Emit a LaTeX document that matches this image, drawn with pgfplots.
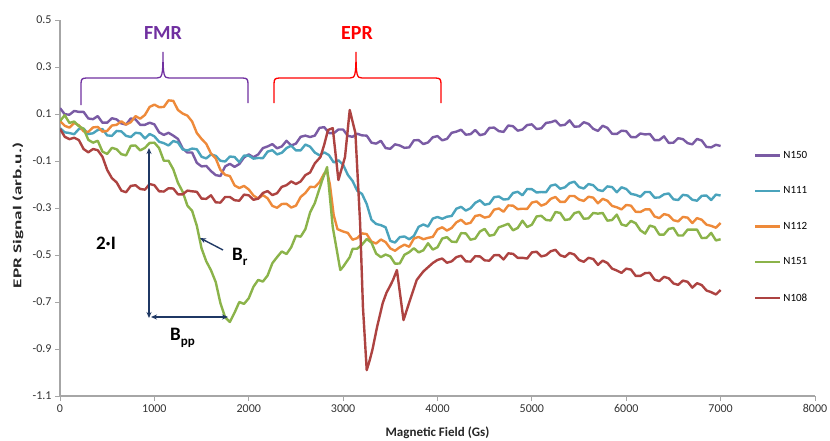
\documentclass[border=0pt]{standalone}
\usepackage{pgfplots}
\pgfplotsset{compat=1.18}
\usetikzlibrary{arrows.meta}
\usepackage{fontspec}
\setmainfont{Carlito}
\newfontfamily\ylabfont{Carlito}[FakeStretch=1.6]
\definecolor{cPur}{HTML}{7A5BA4}
\definecolor{cCya}{HTML}{4AA3BC}
\definecolor{cOra}{HTML}{EE8A3A}
\definecolor{cGre}{HTML}{8BB34A}
\definecolor{cRed}{HTML}{AD4341}
\definecolor{cNavy}{HTML}{1F3864}
\definecolor{cFMR}{HTML}{7030A0}
\definecolor{cEPR}{HTML}{FF0000}
\begin{document}
\begin{tikzpicture}[x=1pt,y=1pt]
\path[use as bounding box] (-60,-44) rectangle (770,396);
\begin{axis}[
  at={(0,0)}, anchor=south west, scale only axis, width=755pt, height=376pt,
  xmin=0, xmax=8000, ymin=-1.1, ymax=0.5,
  axis x line*=bottom, axis y line*=left,
  axis line style={draw=black!35, line width=1.2pt},
  tick align=outside, major tick length=5pt,
  every tick/.style={draw=black!35, line width=1pt},
  scaled x ticks=false,
  xtick={0,1000,2000,3000,4000,5000,6000,7000,8000},
  ytick={-1.1,-0.9,-0.7,-0.5,-0.3,-0.1,0.1,0.3,0.5},
  tick label style={font=\fontsize{12}{13}\selectfont, text=black!80},
  /pgf/number format/assume math mode=true,
  xticklabel style={/pgf/number format/1000 sep={}},
  yticklabel style={/pgf/number format/.cd, fixed, fixed zerofill, precision=1},
  xlabel={Magnetic Field (Gs)},
  ylabel={EPR Signal (arb.u.)},
  every axis x label/.style={at={(axis description cs:0.5,-0.098)}, anchor=center, font=\fontsize{13}{14}\selectfont\bfseries, text=black!85},
  every axis y label/.style={at={(axis description cs:-0.0556,0.48)}, anchor=center, rotate=90, font=\ylabfont\fontsize{12}{13}\selectfont\bfseries, text=black!85},
  legend style={at={(rel axis cs:0.919,0.652)}, anchor=north west, draw=none, fill=none, inner sep=0pt, row sep=27pt, font=\fontsize{11}{11}\selectfont, nodes={inner xsep=2pt, inner ysep=0pt}},
  legend cell align=left,
  legend image code/.code={\draw[#1, line width=2.4pt] (0pt,0pt) -- (25pt,0pt);},
  every axis plot/.append style={line width=2.4pt, line join=round, no markers},
]
\addplot[cPur] coordinates {(0,0.125)(50,0.099)(100,0.097)(150,0.113)(200,0.109)(250,0.109)(300,0.081)(350,0.078)(400,0.091)(450,0.063)(500,0.063)(550,0.082)(600,0.077)(650,0.060)(700,0.055)(750,0.081)(800,0.077)(850,0.054)(900,0.054)(950,0.063)(1000,0.056)(1050,0.022)(1100,0.011)(1150,0.020)(1200,0.008)(1250,-0.006)(1300,-0.047)(1350,-0.064)(1400,-0.064)(1450,-0.108)(1500,-0.123)(1550,-0.121)(1600,-0.143)(1650,-0.160)(1700,-0.164)(1750,-0.123)(1800,-0.112)(1850,-0.125)(1900,-0.113)(1950,-0.085)(2000,-0.072)(2050,-0.084)(2100,-0.072)(2150,-0.045)(2200,-0.038)(2250,-0.028)(2300,-0.046)(2350,-0.038)(2400,-0.014)(2450,-0.034)(2500,-0.026)(2550,0.003)(2600,0.008)(2650,0.002)(2700,0.008)(2750,0.041)(2800,0.044)(2850,0.019)(2900,0.018)(2950,0.034)(3000,0.034)(3050,0.007)(3100,0.003)(3150,0.016)(3200,0.009)(3250,0.008)(3300,-0.022)(3350,-0.026)(3400,-0.014)(3450,-0.045)(3500,-0.048)(3550,-0.029)(3600,-0.034)(3650,-0.044)(3700,-0.042)(3750,-0.012)(3800,-0.011)(3850,-0.028)(3900,-0.021)(3950,0.001)(4000,0.006)(4050,-0.012)(4100,-0.006)(4150,0.020)(4200,0.025)(4250,0.033)(4300,0.012)(4350,0.014)(4400,0.032)(4450,0.010)(4500,0.015)(4550,0.041)(4600,0.042)(4650,0.027)(4700,0.024)(4750,0.051)(4800,0.048)(4850,0.029)(4900,0.034)(4950,0.053)(5000,0.056)(5050,0.036)(5100,0.039)(5150,0.062)(5200,0.065)(5250,0.072)(5300,0.051)(5350,0.054)(5400,0.073)(5450,0.046)(5500,0.047)(5550,0.065)(5600,0.058)(5650,0.037)(5700,0.028)(5750,0.050)(5800,0.041)(5850,0.016)(5900,0.015)(5950,0.029)(6000,0.027)(6050,0.002)(6100,0.001)(6150,0.017)(6200,0.013)(6250,0.015)(6300,-0.011)(6350,-0.011)(6400,0.005)(6450,-0.023)(6500,-0.022)(6550,-0.003)(6600,-0.007)(6650,-0.024)(6700,-0.029)(6750,-0.006)(6800,-0.013)(6850,-0.040)(6900,-0.042)(6950,-0.031)(7000,-0.036)};
\addlegendentry{N150}
\addplot[cCya] coordinates {(0,0.040)(50,0.022)(100,0.019)(150,0.014)(200,0.036)(250,0.038)(300,0.015)(350,0.018)(400,0.032)(450,0.036)(500,0.009)(550,0.007)(600,0.028)(650,0.026)(700,0.007)(750,0.002)(800,0.020)(850,0.018)(900,-0.004)(950,0.015)(1000,0.005)(1050,-0.018)(1100,-0.024)(1150,-0.034)(1200,-0.015)(1250,-0.021)(1300,-0.051)(1350,-0.055)(1400,-0.047)(1450,-0.050)(1500,-0.082)(1550,-0.089)(1600,-0.072)(1650,-0.078)(1700,-0.099)(1750,-0.102)(1800,-0.081)(1850,-0.083)(1900,-0.105)(1950,-0.077)(2000,-0.077)(2050,-0.090)(2100,-0.087)(2150,-0.088)(2200,-0.060)(2250,-0.054)(2300,-0.072)(2350,-0.065)(2400,-0.045)(2450,-0.035)(2500,-0.055)(2550,-0.055)(2600,-0.030)(2650,-0.039)(2700,-0.064)(2750,-0.076)(2800,-0.063)(2850,-0.075)(2900,-0.106)(2950,-0.097)(3000,-0.116)(3050,-0.159)(3100,-0.185)(3150,-0.227)(3200,-0.240)(3250,-0.283)(3300,-0.350)(3350,-0.368)(3400,-0.373)(3450,-0.382)(3500,-0.440)(3550,-0.447)(3600,-0.424)(3650,-0.421)(3700,-0.433)(3750,-0.419)(3800,-0.380)(3850,-0.370)(3900,-0.379)(3950,-0.345)(4000,-0.338)(4050,-0.346)(4100,-0.337)(4150,-0.334)(4200,-0.303)(4250,-0.295)(4300,-0.311)(4350,-0.301)(4400,-0.278)(4450,-0.267)(4500,-0.286)(4550,-0.282)(4600,-0.254)(4650,-0.251)(4700,-0.264)(4750,-0.262)(4800,-0.236)(4850,-0.231)(4900,-0.246)(4950,-0.219)(5000,-0.220)(5050,-0.234)(5100,-0.232)(5150,-0.233)(5200,-0.205)(5250,-0.200)(5300,-0.218)(5350,-0.212)(5400,-0.194)(5450,-0.188)(5500,-0.211)(5550,-0.217)(5600,-0.198)(5650,-0.203)(5700,-0.223)(5750,-0.228)(5800,-0.208)(5850,-0.211)(5900,-0.233)(5950,-0.212)(6000,-0.219)(6050,-0.240)(6100,-0.244)(6150,-0.252)(6200,-0.232)(6250,-0.232)(6300,-0.256)(6350,-0.255)(6400,-0.242)(6450,-0.238)(6500,-0.263)(6550,-0.266)(6600,-0.244)(6650,-0.247)(6700,-0.265)(6750,-0.269)(6800,-0.248)(6850,-0.247)(6900,-0.266)(6950,-0.243)(7000,-0.247)};
\addlegendentry{N111}
\addplot[cOra] coordinates {(0,0.070)(50,0.050)(100,0.042)(150,0.062)(200,0.052)(250,0.026)(300,0.024)(350,0.043)(400,0.045)(450,0.025)(500,0.028)(550,0.051)(600,0.054)(650,0.069)(700,0.055)(750,0.065)(800,0.091)(850,0.080)(900,0.096)(950,0.130)(1000,0.140)(1050,0.129)(1100,0.130)(1150,0.158)(1200,0.156)(1250,0.117)(1300,0.102)(1350,0.093)(1400,0.068)(1450,0.019)(1500,-0.006)(1550,-0.027)(1600,-0.068)(1650,-0.089)(1700,-0.138)(1750,-0.159)(1800,-0.164)(1850,-0.204)(1900,-0.215)(1950,-0.206)(2000,-0.221)(2050,-0.247)(2100,-0.260)(2150,-0.245)(2200,-0.259)(2250,-0.291)(2300,-0.299)(2350,-0.283)(2400,-0.282)(2450,-0.298)(2500,-0.290)(2550,-0.253)(2600,-0.236)(2650,-0.210)(2700,-0.211)(2750,-0.190)(2800,-0.153)(2830,-0.145)(2860,-0.200)(2900,-0.330)(2940,-0.390)(3000,-0.400)(3050,-0.406)(3100,-0.435)(3150,-0.428)(3200,-0.408)(3250,-0.411)(3300,-0.443)(3350,-0.451)(3400,-0.434)(3450,-0.445)(3500,-0.472)(3550,-0.482)(3600,-0.467)(3650,-0.456)(3700,-0.465)(3750,-0.430)(3800,-0.423)(3850,-0.433)(3900,-0.427)(3950,-0.423)(4000,-0.391)(4050,-0.382)(4100,-0.396)(4150,-0.385)(4200,-0.361)(4250,-0.350)(4300,-0.368)(4350,-0.363)(4400,-0.334)(4450,-0.330)(4500,-0.341)(4550,-0.336)(4600,-0.307)(4650,-0.302)(4700,-0.316)(4750,-0.289)(4800,-0.290)(4850,-0.305)(4900,-0.303)(4950,-0.304)(5000,-0.277)(5050,-0.272)(5100,-0.290)(5150,-0.282)(5200,-0.261)(5250,-0.253)(5300,-0.274)(5350,-0.274)(5400,-0.249)(5450,-0.249)(5500,-0.264)(5550,-0.270)(5600,-0.252)(5650,-0.256)(5700,-0.280)(5750,-0.261)(5800,-0.269)(5850,-0.291)(5900,-0.297)(5950,-0.306)(6000,-0.287)(6050,-0.290)(6100,-0.316)(6150,-0.317)(6200,-0.306)(6250,-0.306)(6300,-0.336)(6350,-0.343)(6400,-0.326)(6450,-0.331)(6500,-0.352)(6550,-0.357)(6600,-0.338)(6650,-0.341)(6700,-0.364)(6750,-0.343)(6800,-0.350)(6850,-0.371)(6900,-0.376)(6950,-0.384)(7000,-0.364)};
\addlegendentry{N112}
\addplot[cGre] coordinates {(0,0.070)(50,0.095)(100,0.062)(150,0.068)(200,0.048)(250,0.037)(300,-0.010)(350,-0.022)(400,-0.014)(450,-0.060)(500,-0.070)(550,-0.044)(600,-0.050)(650,-0.071)(700,-0.076)(750,-0.035)(800,-0.034)(850,-0.055)(900,-0.044)(950,-0.023)(1000,-0.022)(1050,-0.045)(1100,-0.099)(1150,-0.099)(1200,-0.135)(1250,-0.193)(1300,-0.231)(1350,-0.290)(1400,-0.312)(1450,-0.376)(1500,-0.472)(1550,-0.527)(1600,-0.565)(1650,-0.615)(1700,-0.705)(1750,-0.765)(1800,-0.785)(1850,-0.745)(1900,-0.700)(1950,-0.708)(2000,-0.684)(2050,-0.635)(2100,-0.606)(2150,-0.613)(2200,-0.587)(2250,-0.535)(2300,-0.509)(2350,-0.485)(2400,-0.496)(2450,-0.467)(2500,-0.418)(2550,-0.422)(2600,-0.390)(2650,-0.319)(2700,-0.279)(2780,-0.180)(2830,-0.126)(2890,-0.381)(2970,-0.564)(3000,-0.550)(3070,-0.509)(3100,-0.474)(3150,-0.473)(3200,-0.456)(3250,-0.432)(3300,-0.447)(3350,-0.494)(3400,-0.509)(3450,-0.498)(3500,-0.506)(3550,-0.537)(3600,-0.536)(3650,-0.499)(3700,-0.488)(3750,-0.471)(3800,-0.489)(3850,-0.480)(3900,-0.450)(3950,-0.477)(4000,-0.467)(4050,-0.430)(4100,-0.424)(4150,-0.443)(4200,-0.445)(4250,-0.407)(4300,-0.408)(4350,-0.435)(4400,-0.430)(4450,-0.400)(4500,-0.389)(4550,-0.418)(4600,-0.414)(4650,-0.382)(4700,-0.375)(4750,-0.367)(4800,-0.395)(4850,-0.385)(4900,-0.354)(4950,-0.381)(5000,-0.371)(5050,-0.336)(5100,-0.333)(5150,-0.351)(5200,-0.353)(5250,-0.317)(5300,-0.321)(5350,-0.351)(5400,-0.348)(5450,-0.322)(5500,-0.316)(5550,-0.346)(5600,-0.344)(5650,-0.321)(5700,-0.324)(5750,-0.321)(5800,-0.354)(5850,-0.351)(5900,-0.328)(5950,-0.370)(6000,-0.376)(6050,-0.355)(6100,-0.365)(6150,-0.395)(6200,-0.409)(6250,-0.375)(6300,-0.381)(6350,-0.413)(6400,-0.413)(6450,-0.389)(6500,-0.385)(6550,-0.417)(6600,-0.417)(6650,-0.392)(6700,-0.392)(6750,-0.392)(6800,-0.428)(6850,-0.427)(6900,-0.406)(6950,-0.438)(7000,-0.433)};
\addlegendentry{N151}
\addplot[cRed] coordinates {(0,0.037)(50,0.003)(100,-0.007)(150,-0.001)(200,-0.011)(250,-0.049)(300,-0.063)(350,-0.049)(400,-0.054)(450,-0.082)(500,-0.138)(550,-0.173)(600,-0.191)(650,-0.226)(700,-0.233)(750,-0.206)(800,-0.203)(850,-0.219)(900,-0.222)(950,-0.198)(1000,-0.203)(1050,-0.229)(1100,-0.230)(1150,-0.216)(1200,-0.217)(1250,-0.242)(1300,-0.242)(1350,-0.226)(1400,-0.229)(1450,-0.231)(1500,-0.260)(1550,-0.261)(1600,-0.246)(1650,-0.276)(1700,-0.277)(1750,-0.253)(1800,-0.253)(1850,-0.267)(1900,-0.269)(1950,-0.243)(2000,-0.246)(2050,-0.265)(2100,-0.260)(2150,-0.236)(2200,-0.228)(2250,-0.245)(2300,-0.237)(2350,-0.210)(2400,-0.203)(2450,-0.187)(2500,-0.198)(2550,-0.187)(2600,-0.160)(2650,-0.149)(2700,-0.110)(2760,-0.083)(2800,-0.030)(2840,0.032)(2890,0.040)(2950,-0.181)(3020,-0.083)(3070,0.117)(3130,0.019)(3180,-0.364)(3210,-0.721)(3250,-0.990)(3280,-0.950)(3310,-0.904)(3360,-0.806)(3420,-0.704)(3460,-0.660)(3500,-0.630)(3530,-0.605)(3570,-0.564)(3640,-0.777)(3710,-0.690)(3780,-0.606)(3850,-0.570)(3900,-0.552)(3950,-0.534)(4000,-0.521)(4050,-0.515)(4100,-0.533)(4150,-0.527)(4200,-0.509)(4250,-0.503)(4300,-0.527)(4350,-0.528)(4400,-0.505)(4450,-0.506)(4500,-0.523)(4550,-0.524)(4600,-0.501)(4650,-0.500)(4700,-0.519)(4750,-0.493)(4800,-0.495)(4850,-0.512)(4900,-0.512)(4950,-0.515)(5000,-0.489)(5050,-0.486)(5100,-0.506)(5150,-0.501)(5200,-0.484)(5250,-0.478)(5300,-0.501)(5350,-0.508)(5400,-0.491)(5450,-0.498)(5500,-0.521)(5550,-0.529)(5600,-0.512)(5650,-0.517)(5700,-0.542)(5750,-0.524)(5800,-0.534)(5850,-0.558)(5900,-0.566)(5950,-0.576)(6000,-0.558)(6050,-0.562)(6100,-0.589)(6150,-0.589)(6200,-0.577)(6250,-0.576)(6300,-0.605)(6350,-0.611)(6400,-0.593)(6450,-0.599)(6500,-0.621)(6550,-0.627)(6600,-0.609)(6650,-0.614)(6700,-0.639)(6750,-0.620)(6800,-0.628)(6850,-0.651)(6900,-0.658)(6950,-0.668)(7000,-0.649)};
\addlegendentry{N108}
\end{axis}
% brackets
\draw[cFMR, line width=1.3pt] (21,291) -- (21,312) .. controls (21,317) and (22,318) .. (27,318) -- (97,318) .. controls (102,318) and (103,320) .. (103,344) .. controls (103,320) and (104,318) .. (109,318) -- (182,318) .. controls (187,318) and (188,317) .. (188,312) -- (188,293);
\draw[cEPR, line width=1.3pt] (214,293) -- (214,312) .. controls (214,317) and (215,318) .. (220,318) -- (290,318) .. controls (295,318) and (296,320) .. (296,344) .. controls (296,320) and (297,318) .. (302,318) -- (375,318) .. controls (380,318) and (381,317) .. (381,312) -- (381,293);
\node[text=cFMR, font=\fontsize{20}{20}\selectfont\bfseries] at (103,363) {FMR};
\node[text=cEPR, font=\fontsize{20}{20}\selectfont\bfseries] at (297,363) {EPR};
% arrows
\draw[cNavy, line width=1.4pt, {Stealth[length=6pt,width=5pt]}-{Stealth[length=6pt,width=5pt]}] (89,248) -- (89,78);
\draw[cNavy, line width=1.4pt, {Stealth[length=6pt,width=5pt]}-{Stealth[length=6pt,width=5pt]}] (91,79) -- (168,79);
\draw[cNavy, line width=1.4pt, -{Stealth[length=6pt,width=5pt]}] (163,146) -- (140,158);
\node[font=\fontsize{19}{19}\selectfont\bfseries] at (46,153) {2·I};
\node[anchor=base west, inner sep=0pt, font=\fontsize{19}{19}\selectfont\bfseries] at (172,136) {B\raisebox{-0.3em}{\fontsize{13}{13}\selectfont r}};
\node[anchor=base west, inner sep=0pt, font=\fontsize{19}{19}\selectfont\bfseries] at (110,56) {B\raisebox{-0.3em}{\fontsize{13}{13}\selectfont pp}};
\end{tikzpicture}
\end{document}
